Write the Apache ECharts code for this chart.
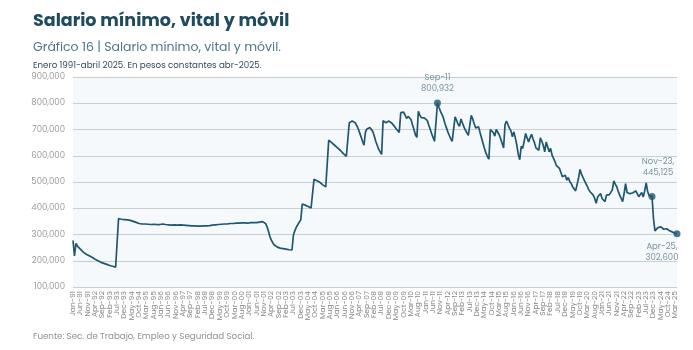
<!DOCTYPE html>
<html lang="es">
<head>
    <meta charset="UTF-8">
    <title>Salario mínimo, vital y móvil</title>
    <script src="https://cdn.jsdelivr.net/npm/echarts@6/dist/echarts.min.js"></script>
    <style>
        html, body { margin: 0; padding: 0; background: #ffffff; }
        #chart { width: 693px; height: 350px; }
    </style>
</head>
<body>
<div id="chart"></div>
<script>
    // monthly values, pesos constantes abr-2025
    var v1991_1995 = [
        277000, 218000, 266000, 256000, 250000, 244000, 238000, 233000, 229000, 225000, 222000, 219000,
        216000, 213000, 210000, 206000, 203000, 200000, 197000, 194000, 192000, 190000, 188000, 186000,
        184000, 182000, 181000, 179000, 177000, 175000, 173000, 361000, 359000, 358000, 358000, 357000,
        357000, 356000, 355000, 354000, 352000, 350000, 348000, 346000, 344000, 342000, 341000, 340000,
        340000, 340000, 339000, 339000, 339000, 338000, 338000, 339000, 338000, 338000, 337000, 338000
    ];
    var v1996_2000 = [
        339000, 340000, 339000, 338000, 337000, 337000, 336000, 336000, 337000, 337000, 336000, 336000,
        337000, 337000, 336000, 336000, 335000, 335000, 334000, 334000, 333000, 333000, 333000, 333000,
        332000, 332000, 332000, 332000, 333000, 333000, 332000, 333000, 334000, 334000, 335000, 336000,
        337000, 337000, 338000, 338000, 339000, 339000, 340000, 340000, 341000, 340000, 341000, 342000,
        341000, 342000, 342000, 343000, 342000, 343000, 343000, 344000, 343000, 344000, 344000, 343000
    ];
    var v2001_2005 = [
        344000, 345000, 344000, 345000, 346000, 345000, 346000, 347000, 348000, 349000, 350000, 342000,
        330000, 312000, 292000, 278000, 268000, 260000, 255000, 252000, 250000, 248000, 247000, 246000,
        245000, 244000, 243000, 242000, 241000, 241000, 298000, 315000, 328000, 338000, 347000, 356000,
        416000, 414000, 412000, 410000, 407000, 404000, 401000, 399000, 510000, 508000, 505000, 502000,
        499000, 494000, 489000, 484000, 482000, 570000, 659000, 655000, 650000, 645000, 640000, 635000
    ];
    var v2006_2010 = [
        630000, 626000, 620000, 614000, 608000, 603000, 598000, 600000, 726000, 729000, 732000, 734000,
        726000, 716000, 704000, 688000, 672000, 655000, 640000, 690000, 702000, 705000, 708000, 710000,
        692000, 675000, 655000, 640000, 625000, 615000, 605000, 733000, 730000, 726000, 728000, 732000,
        728000, 724000, 718000, 710000, 702000, 695000, 689000, 764000, 765000, 766000, 764000, 742000,
        750000, 754000, 738000, 718000, 700000, 680000, 670000, 769000, 755000, 745000, 738000, 744000
    ];
    var v2011_2015 = [
        748000, 735000, 718000, 702000, 685000, 670000, 655000, 650000, 800932, 785000, 770000, 758000,
        745000, 725000, 708000, 692000, 678000, 665000, 655000, 650000, 748000, 735000, 720000, 712000,
        740000, 725000, 710000, 698000, 688000, 678000, 672000, 754000, 740000, 722000, 706000, 710000,
        710000, 688000, 668000, 648000, 628000, 610000, 597000, 587000, 700000, 704000, 688000, 675000,
        700000, 695000, 680000, 665000, 648000, 630000, 720000, 732000, 718000, 705000, 695000, 672000
    ];
    var v2016_2020 = [
        691000, 668000, 640000, 605000, 585000, 636000, 628000, 655000, 685000, 668000, 653000, 668000,
        682000, 665000, 650000, 630000, 625000, 621000, 668000, 655000, 640000, 615000, 652000, 634000,
        615000, 628000, 602000, 590000, 577000, 562000, 558000, 552000, 536000, 520000, 514000, 526000,
        507000, 517000, 502000, 494000, 482000, 475000, 466000, 490000, 515000, 548000, 530000, 518000,
        505000, 494000, 483000, 470000, 462000, 455000, 450000, 437000, 419000, 443000, 450000, 456000
    ];
    var v2021_2025 = [
        437000, 430000, 425000, 450000, 444000, 452000, 456000, 470000, 504000, 492000, 482000, 465000,
        450000, 438000, 425000, 456000, 494000, 460000, 456000, 455000, 457000, 459000, 462000, 466000,
        455000, 444000, 450000, 460000, 443000, 465000, 497000, 465000, 448000, 447000, 445125, 360000,
        314000, 318000, 326000, 327000, 329000, 327000, 320000, 327000, 322000, 317000, 314000, 312000,
        309000, 307000, 305000, 302600
    ];
    var salario = [].concat(v1991_1995, v1996_2000, v2001_2005, v2006_2010, v2011_2015, v2016_2020, v2021_2025);

    var monthNames = ['Jan', 'Feb', 'Mar', 'Apr', 'May', 'Jun', 'Jul', 'Aug', 'Sep', 'Oct', 'Nov', 'Dec'];
    var categories = [];
    for (var y = 1991; y <= 2025; y++) {
        for (var m = 0; m < 12; m++) {
            if (categories.length < salario.length) {
                categories.push(monthNames[m] + '-' + String(y).slice(2));
            }
        }
    }

    // highlighted months
    var highlights = [
        { month: 'Sep-11', text: 'Sep-11', pos: 'top', dist: 5, off: [0, 0] },
        { month: 'Nov-23', text: 'Nov-23,', pos: 'top', dist: 15, off: [6, 0] },
        { month: 'Apr-25', text: 'Apr-25,', pos: 'bottom', dist: 4, off: [-15, 0] }
    ];

    function fmt(v) { return Math.round(v).toLocaleString('en-US'); }

    var font = 'Poppins, "Open Sans", sans-serif';
    var chart = echarts.init(document.getElementById('chart'));

    chart.setOption({
        backgroundColor: '#ffffff',
        animation: false,
        textStyle: { fontFamily: font },
        title: [
            { text: 'Salario mínimo, vital y móvil', left: 33, top: 13, padding: 0,
              textStyle: { fontFamily: font, fontSize: 17.5, fontWeight: 'bold', color: '#1f4a60' } },
            { text: 'Gráfico 16 | Salario mínimo, vital y móvil.', left: 33, top: 41, padding: 0,
              textStyle: { fontFamily: font, fontSize: 12.5, fontWeight: 'normal', color: '#4d7688' } },
            { text: 'Enero 1991-abril 2025. En pesos constantes abr-2025.', left: 33, top: 61, padding: 0,
              textStyle: { fontFamily: font, fontSize: 8.7, fontWeight: 'normal', color: '#34495a' } },
            { text: 'Fuente: Sec. de Trabajo, Empleo y Seguridad Social.', left: 33, top: 332, padding: 0,
              textStyle: { fontFamily: font, fontSize: 8.7, fontWeight: 'normal', color: '#8a9197' } }
        ],
        grid: { left: 73, right: 16, top: 77, bottom: 63, backgroundColor: '#f6f9fb', show: true, borderWidth: 0 },
        xAxis: {
            type: 'category',
            data: categories,
            boundaryGap: false,
            axisLine: { show: false },
            axisTick: { show: false },
            axisLabel: {
                interval: 0,
                // one label every five months, Jan-91 ... Mar-25
                formatter: function (value, index) { return index % 5 === 0 ? value : ''; },
                showMinLabel: true,
                rotate: 90, fontSize: 7.5, color: '#888888', margin: 4
            },
            splitLine: { show: false }
        },
        yAxis: {
            type: 'value',
            min: 100000,
            max: 900000,
            interval: 100000,
            axisLine: { show: false },
            axisTick: { show: false },
            axisLabel: { fontSize: 8.5, color: '#9a9a9a', margin: 8, formatter: fmt },
            splitLine: { lineStyle: { color: '#c9ced1', width: 1.2 } }
        },
        series: [
            {
                name: 'Salario mínimo',
                type: 'line',
                data: salario,
                showSymbol: false,
                lineStyle: { color: '#1f5670', width: 1.7 },
                z: 2
            },
            {
                type: 'scatter',
                symbolSize: 7,
                itemStyle: { color: '#1f5670' },
                z: 3,
                data: highlights.map(function (h) {
                    var i = categories.indexOf(h.month);
                    return {
                        value: [i, salario[i]],
                        label: {
                            show: true,
                            position: h.pos,
                            distance: h.dist,
                            offset: h.off,
                            formatter: h.text + '\n' + fmt(salario[i]),
                            fontSize: 8.5,
                            lineHeight: 11,
                            color: '#5a7a89'
                        }
                    };
                })
            }
        ]
    });
</script>
</body>
</html>
